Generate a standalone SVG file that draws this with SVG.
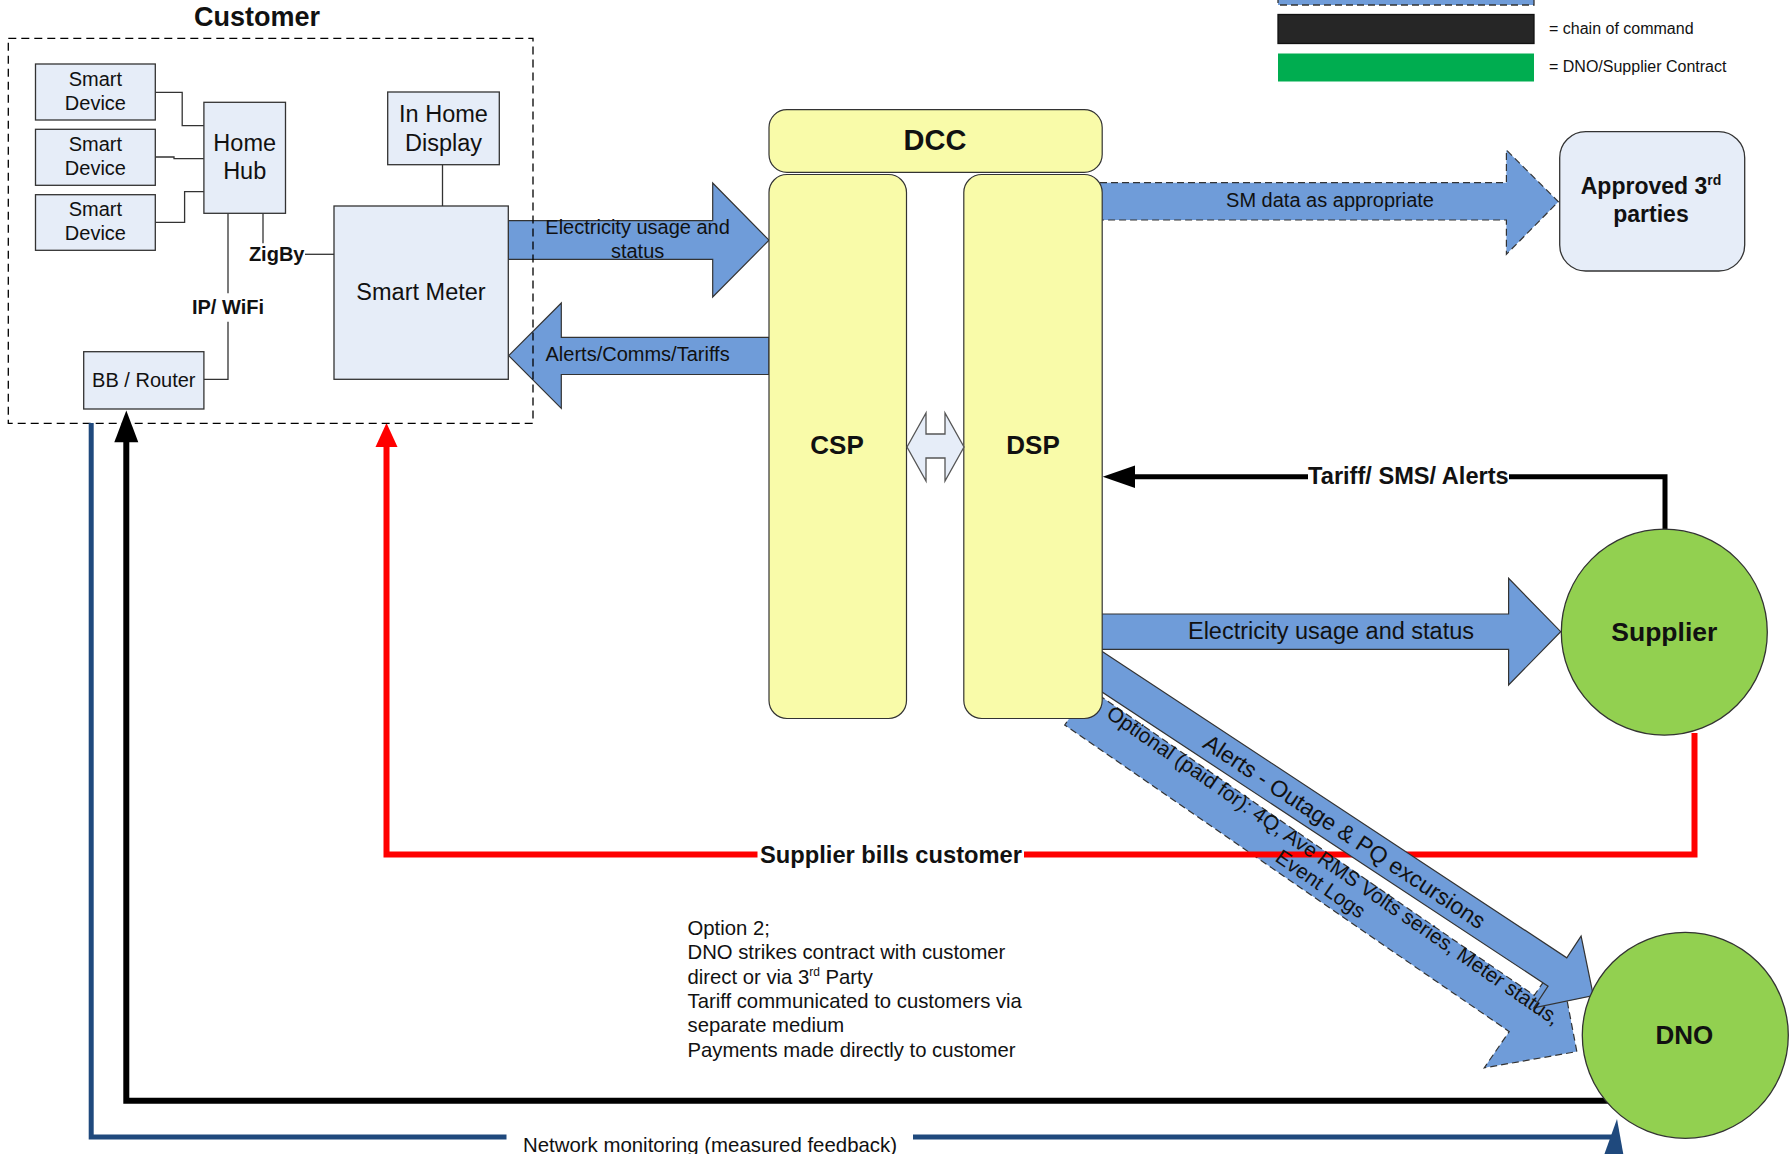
<svg xmlns="http://www.w3.org/2000/svg" width="1791" height="1154" viewBox="0 0 1791 1154">
  <defs>
    <style>
      text { font-family: "Liberation Sans", Arial, sans-serif; fill: #111; }
      .b { font-weight: bold; }
      .mid { text-anchor: middle; }
      .box { fill: #e6edf8; stroke: #333; stroke-width: 1.3; }
      .wire { fill: none; stroke: #333; stroke-width: 1.3; }
      .pillar { fill: #f9fba9; stroke: #333; stroke-width: 1.2; }
      .flow { fill: #6f9cd9; stroke: #333; stroke-width: 1.2; stroke-linejoin: miter; }
      .dash { stroke-dasharray: 7 4; }
      .circ { fill: #92d050; stroke: #333; stroke-width: 1.3; }
      .red { fill: none; stroke: #ff0000; stroke-width: 6; }
      .blk { fill: none; stroke: #000; stroke-width: 6; }
      .cmd { fill: none; stroke: #000; stroke-width: 5; }
      .navy { fill: none; stroke: #1f497d; stroke-width: 5; }
    </style>
  </defs>

  <!-- legend -->
  <g id="legend">
    <rect x="1278" y="-20" width="256" height="25" fill="#6f9cd9" stroke="#333" stroke-width="1.3" stroke-dasharray="7 4"/>
    <rect x="1278" y="14.5" width="256" height="29" fill="#262626" stroke="#111" stroke-width="1.3"/>
    <rect x="1278" y="53.5" width="256" height="28" fill="#00ad50"/>
    <text x="1549" y="34" font-size="16" fill="#333">= chain of command</text>
    <text x="1549" y="72" font-size="16" fill="#333">= DNO/Supplier Contract</text>
  </g>

  <!-- block-arrow data flows -->
  <g id="flows">
    <polygon class="flow" points="508.3,220.6 712.7,220.6 712.7,183 769,240.2 712.7,297 712.7,259.4 508.3,259.4"/>
    <text class="mid" x="637.6" y="233.7" font-size="20">Electricity usage and</text>
    <text class="mid" x="637.6" y="258" font-size="20">status</text>

    <polygon class="flow" points="769,337.3 561.3,337.3 561.3,303 508.7,355.7 561.3,408.4 561.3,374.5 769,374.5"/>
    <text class="mid" x="637.6" y="361.4" font-size="20">Alerts/Comms/Tariffs</text>

    <polygon class="flow dash" points="1100,182.7 1506.4,182.7 1506.4,150 1558.4,201.7 1506.4,254.3 1506.4,220 1100,220"/>
    <text class="mid" x="1330" y="207" font-size="20">SM data as appropriate</text>

    <polygon class="flow" points="1100,614 1508.6,614 1508.6,578.3 1560.7,631.7 1508.6,685 1508.6,649.3 1100,649.3"/>
    <text class="mid" x="1331" y="639" font-size="23.5">Electricity usage and status</text>

    <!-- optional data to DNO (dashed) -->
    <polygon class="flow dash" transform="translate(1077.2,706.9) rotate(34.6)" points="0,-22 540,-22 540,-66 607,0 540,66 540,22 0,22"/>
  </g>

  <!-- supplier billing line -->
  <g id="billing">
    <path class="red" d="M1694.5,733 V854.5 H1024"/>
    <path class="red" d="M757.5,854.5 H386.5 V440"/>
    <polygon points="386.5,423 375.5,447 397.5,447" fill="#ff0000"/>
    <text class="b mid" x="891" y="862.6" font-size="23.7">Supplier bills customer</text>
  </g>

  <g id="alerts-flow">
    <polygon class="flow" transform="translate(1059.85,643.9) rotate(33.4)" points="0,-17 596,-17 596,-43 639,0 596,43 596,17 0,17"/>
  </g>

  <!-- DCC -->
  <g id="dcc">
    <rect class="pillar" x="769" y="109.6" width="333.2" height="62.8" rx="18"/>
    <text class="b mid" x="935" y="150" font-size="29">DCC</text>
  </g>
  <g id="csp">
    <rect class="pillar" x="769" y="174.5" width="137.5" height="544" rx="18"/>
    <text class="b mid" x="837" y="454" font-size="26">CSP</text>
  </g>
  <g id="dsp">
    <rect class="pillar" x="963.8" y="174.5" width="138.4" height="544" rx="18"/>
    <text class="b mid" x="1033" y="454" font-size="26">DSP</text>
  </g>
  <g id="csp-dsp-link">
    <polygon points="907,447 926,413 926,434 945,434 945,413 964,447 945,481 945,458 926,458 926,481" fill="#e6edf8" stroke="#555" stroke-width="1.3"/>
  </g>

  <!-- labels of the diagonal flows -->
  <g id="diagonal-labels">
    <text class="mid" transform="translate(1059.85,643.9) rotate(33.4)" x="341" y="8" font-size="23">Alerts - Outage &amp; PQ excursions</text>
    <g transform="translate(1077.2,706.9) rotate(34.6)">
      <text class="mid" x="301" y="-8" font-size="20.7">Optional (paid for): 4Q, Ave RMS Volts series, Meter status,</text>
      <text class="mid" x="301" y="14.5" font-size="20.7">Event Logs</text>
    </g>
  </g>

  <!-- customer premises -->
  <g id="customer">
    <text class="b mid" x="257" y="25.5" font-size="27">Customer</text>
    <rect x="8.3" y="38.3" width="524.7" height="385" fill="none" stroke="#000" stroke-width="1.3" stroke-dasharray="8 5"/>
  </g>

  <g id="home-links">
    <path class="wire" d="M155.3,92.3 H182.2 V125.7 H203.9"/>
    <path class="wire" d="M155.3,157 H174 V158.7 H203.9"/>
    <path class="wire" d="M155.3,222.3 H184.6 V191.7 H203.9"/>
    <path class="wire" d="M263,213.3 V243.3"/>
    <path class="wire" d="M305,254.3 H334"/>
    <path class="wire" d="M228,213.3 V293.3"/>
    <path class="wire" d="M228,321.7 V379.3 H203.9"/>
    <path class="wire" d="M442.5,164.7 V206"/>
    <text class="b mid" x="276.7" y="260.5" font-size="20">ZigBy</text>
    <text class="b mid" x="228" y="314.3" font-size="20">IP/ WiFi</text>
  </g>

  <g id="smart-device-1">
    <rect class="box" x="35.5" y="64" width="119.8" height="56"/>
    <text class="mid" x="95.4" y="86" font-size="20" fill="#222">Smart</text>
    <text class="mid" x="95.4" y="110" font-size="20" fill="#222">Device</text>
  </g>
  <g id="smart-device-2">
    <rect class="box" x="35.5" y="129.3" width="119.8" height="56"/>
    <text class="mid" x="95.4" y="151" font-size="20" fill="#222">Smart</text>
    <text class="mid" x="95.4" y="175" font-size="20" fill="#222">Device</text>
  </g>
  <g id="smart-device-3">
    <rect class="box" x="35.5" y="194.7" width="119.8" height="55.6"/>
    <text class="mid" x="95.4" y="216" font-size="20" fill="#222">Smart</text>
    <text class="mid" x="95.4" y="240" font-size="20" fill="#222">Device</text>
  </g>
  <g id="home-hub">
    <rect class="box" x="203.9" y="102.3" width="81.6" height="111"/>
    <text class="mid" x="244.7" y="150.7" font-size="23.5" fill="#222">Home</text>
    <text class="mid" x="244.7" y="179.3" font-size="23.5" fill="#222">Hub</text>
  </g>
  <g id="in-home-display">
    <rect class="box" x="387.7" y="92" width="111.6" height="72.7"/>
    <text class="mid" x="443.5" y="121.7" font-size="23.5" fill="#222">In Home</text>
    <text class="mid" x="443.5" y="150.7" font-size="23.5" fill="#222">Display</text>
  </g>
  <g id="smart-meter">
    <rect class="box" x="334" y="206" width="174.3" height="173.3"/>
    <text class="mid" x="421" y="300" font-size="23.5" fill="#222">Smart Meter</text>
  </g>
  <g id="bb-router">
    <rect class="box" x="83.7" y="351.7" width="120.2" height="57.3"/>
    <text class="mid" x="143.8" y="386.7" font-size="20" fill="#222">BB / Router</text>
  </g>

  <!-- third parties -->
  <g id="approved-3rd-parties">
    <rect class="box" x="1559.7" y="131.7" width="185" height="139.3" rx="26"/>
    <text class="b mid" x="1651" y="193.5" font-size="23">Approved 3<tspan font-size="14" dy="-9">rd</tspan></text>
    <text class="b mid" x="1651" y="222" font-size="23">parties</text>
  </g>

  <!-- supplier tariff messages -->
  <g id="tariff-link">
    <path class="cmd" d="M1665,531 V476.7 H1509"/>
    <path class="cmd" d="M1308,476.7 H1130"/>
    <polygon points="1102.7,476.7 1135,465.5 1135,488" fill="#000"/>
    <text class="b mid" x="1408.4" y="484" font-size="23.6">Tariff/ SMS/ Alerts</text>
  </g>

  <!-- DNO chain of command and network monitoring -->
  <g id="command-line">
    <path class="blk" d="M1612,1100.7 H126.3 V436"/>
    <polygon points="126.3,410.6 114.3,442.3 138.3,442.3" fill="#000"/>
  </g>
  <g id="monitoring-line">
    <path class="navy" d="M91.2,423 V1137 H506.5"/>
    <path class="navy" d="M913,1137 H1616"/>
    <polygon points="1617,1119 1624,1158 1603,1158" fill="#1f497d"/>
    <text x="523" y="1151.5" font-size="20.4" fill="#222">Network monitoring (measured feedback)</text>
  </g>

  <g id="supplier">
    <circle class="circ" cx="1664.3" cy="632.2" r="103"/>
    <text class="b mid" x="1664.3" y="641" font-size="26.5">Supplier</text>
  </g>
  <g id="dno">
    <circle class="circ" cx="1685.3" cy="1035.3" r="103"/>
    <text class="b mid" x="1684.3" y="1044" font-size="26">DNO</text>
  </g>

  <!-- option note -->
  <g id="option-note" font-size="20.3" fill="#222">
    <text x="687.5" y="934.6">Option 2;</text>
    <text x="687.5" y="959">DNO strikes contract with customer</text>
    <text x="687.5" y="983.5">direct or via 3<tspan font-size="12" dy="-8">rd</tspan><tspan dy="8"> Party</tspan></text>
    <text x="687.5" y="1008">Tariff communicated to customers via</text>
    <text x="687.5" y="1032.4">separate medium</text>
    <text x="687.5" y="1056.7">Payments made directly to customer</text>
  </g>
</svg>
